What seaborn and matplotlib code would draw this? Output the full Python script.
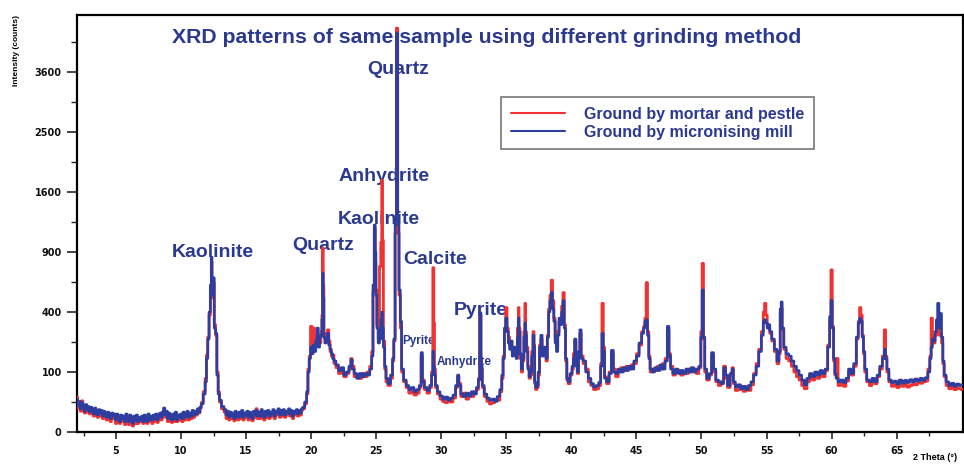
import numpy as np
import matplotlib
matplotlib.use("Agg")
import matplotlib.pyplot as plt
import seaborn as sns

# ---------------- data ----------------
two_theta = [
    2.0, 2.1, 2.2, 2.3, 2.4, 2.5, 2.6, 2.7, 2.8, 2.9,
    3.0, 3.1, 3.2, 3.3, 3.4, 3.5, 3.6, 3.7, 3.8, 3.9,
    4.0, 4.1, 4.2, 4.3, 4.4, 4.5, 4.6, 4.7, 4.8, 4.9,
    5.0, 5.1, 5.2, 5.3, 5.4, 5.5, 5.6, 5.7, 5.8, 5.9,
    6.0, 6.1, 6.2, 6.3, 6.4, 6.5, 6.6, 6.7, 6.8, 6.9,
    7.0, 7.1, 7.2, 7.3, 7.4, 7.5, 7.6, 7.7, 7.8, 7.9,
    8.0, 8.1, 8.2, 8.3, 8.4, 8.5, 8.6, 8.7, 8.8, 8.9,
    9.0, 9.1, 9.2, 9.3, 9.4, 9.5, 9.6, 9.7, 9.8, 9.9,
    10.0, 10.1, 10.2, 10.3, 10.4, 10.5, 10.6, 10.7, 10.8, 10.9,
    11.0, 11.1, 11.2, 11.3, 11.4, 11.5, 11.6,
    11.8, 11.9, 12.0, 12.1, 12.2, 12.3, 12.35, 12.4, 12.5, 12.6, 12.7, 12.8, 12.9, 13.0, 13.2,
    13.4, 13.5, 13.6, 13.7, 13.8, 13.9,
    14.0, 14.1, 14.2, 14.3, 14.4, 14.5, 14.6, 14.7, 14.8, 14.9,
    15.0, 15.1, 15.2, 15.3, 15.4, 15.5, 15.6, 15.7, 15.8, 15.9,
    16.0, 16.1, 16.2, 16.3, 16.4, 16.5, 16.6, 16.7, 16.8, 16.9,
    17.0, 17.1, 17.2, 17.3, 17.4, 17.5, 17.6, 17.7, 17.8, 17.9,
    18.0, 18.1, 18.2, 18.3, 18.4, 18.5, 18.6, 18.7, 18.8, 18.9,
    19.0, 19.1, 19.2, 19.3, 19.4,
    19.6, 19.7, 19.8, 19.9, 20.0, 20.1, 20.2, 20.3, 20.4, 20.5,
    20.6, 20.7, 20.8, 20.85, 20.9, 20.95, 21.0, 21.1, 21.2, 21.3,
    21.4, 21.5, 21.6, 21.7, 21.8, 22.0, 22.2, 22.4, 22.6, 22.8,
    23.0, 23.1, 23.2, 23.4, 23.6, 23.8, 24.0, 24.2, 24.4, 24.6,
    24.7, 24.8, 24.9, 24.95, 25.0, 25.1, 25.2, 25.3, 25.4, 25.45,
    25.5, 25.6, 25.7, 25.8, 26.0, 26.2, 26.3, 26.4, 26.5, 26.6,
    26.7, 26.8, 26.9, 27.0, 27.2, 27.4, 27.6, 27.8, 28.0, 28.2,
    28.4, 28.5, 28.6, 28.8, 29.0, 29.2, 29.3, 29.4, 29.45, 29.5,
    29.6, 29.8, 30.0, 30.2, 30.4, 30.6, 30.8, 31.0, 31.2, 31.3,
    31.4, 31.6, 31.8, 32.0, 32.2, 32.4, 32.6, 32.8, 32.9, 33.0,
    33.1, 33.2, 33.4, 33.6, 33.8, 34.0, 34.2, 34.4, 34.6, 34.7,
    34.8, 34.9, 35.0, 35.1, 35.2, 35.3, 35.4, 35.5, 35.6, 35.7,
    35.8, 35.9, 35.95, 36.0, 36.1, 36.2, 36.3, 36.4, 36.45, 36.5,
    36.6, 36.7, 36.8, 36.9, 37.0, 37.1, 37.15, 37.2, 37.3, 37.4,
    37.5, 37.6, 37.7, 37.8, 37.9, 38.0, 38.1, 38.2, 38.3, 38.4,
    38.5, 38.6, 38.7, 38.8, 38.9, 39.0, 39.1, 39.2, 39.3, 39.4,
    39.5, 39.6, 39.7, 39.8, 40.0, 40.1, 40.2, 40.3, 40.4, 40.5,
    40.6, 40.7, 40.8, 41.0, 41.2, 41.4, 41.6, 41.8, 42.0, 42.2,
    42.3, 42.4, 42.5, 42.6, 42.8, 43.0, 43.15, 43.3, 43.5, 43.7,
    43.9, 44.1, 44.3, 44.5, 44.7, 44.9, 45.1, 45.3, 45.5, 45.6,
    45.7, 45.8, 45.9, 46.0, 46.1, 46.3, 46.5, 46.7, 46.9, 47.1,
    47.3, 47.45, 47.55, 47.7, 47.9, 48.1, 48.3, 48.5, 48.7, 48.9,
    49.1, 49.3, 49.5, 49.7, 49.9, 50.0, 50.1, 50.2, 50.3, 50.5,
    50.7, 50.85, 51.0, 51.2, 51.4, 51.6, 51.8, 51.9, 52.1, 52.3,
    52.4, 52.5, 52.7, 52.9, 53.1, 53.3, 53.5, 53.7, 53.9, 54.1,
    54.3, 54.5, 54.7, 54.8, 54.9, 55.0, 55.1, 55.2, 55.3, 55.5,
    55.7, 55.9, 56.0, 56.1, 56.15, 56.25, 56.4, 56.6, 56.8, 57.0,
    57.2, 57.4, 57.6, 57.8, 58.0, 58.2, 58.4, 58.6, 58.8, 59.0,
    59.2, 59.4, 59.6, 59.8, 59.9, 60.0, 60.1, 60.2, 60.3, 60.4,
    60.6, 60.8, 61.0, 61.2, 61.4, 61.6, 61.8, 62.0, 62.1, 62.2,
    62.3, 62.4, 62.5, 62.6, 62.8, 63.0, 63.2, 63.4, 63.6, 63.8,
    64.0, 64.1, 64.2, 64.3, 64.5, 64.7, 64.9, 65.1, 65.3, 65.5,
    65.7, 65.9, 66.1, 66.3, 66.5, 66.7, 66.9, 67.1, 67.3, 67.5,
    67.6, 67.7, 67.8, 67.9, 68.0, 68.1, 68.2, 68.3, 68.4, 68.5,
    68.6, 68.7, 68.9, 69.1, 69.3, 69.5, 69.7, 69.9, 70.0,
]

mill_counts = [
    30, 19, 26, 15, 24, 17, 12, 21, 14, 18,
    11, 17, 13, 9, 16, 12, 8, 14, 10, 13,
    7, 12, 9, 6, 11, 8, 5, 10, 7, 9,
    4, 9, 6, 3, 8, 5, 7, 3, 9, 5,
    3, 8, 5, 2, 7, 4, 8, 3, 6, 4,
    7, 3, 8, 5, 3, 9, 4, 7, 4, 8,
    5, 9, 4, 7, 10, 6, 11, 16, 8, 12,
    5, 10, 6, 4, 9, 5, 11, 4, 8, 6,
    9, 5, 11, 6, 8, 12, 6, 10, 7, 13,
    8, 12, 9, 15, 11, 17, 22,
    40, 70, 150, 240, 400, 600, 850, 520, 660, 300, 270, 90, 40, 28, 18,
    14, 8, 12, 6, 11, 7,
    10, 5, 12, 8, 6, 11, 7, 13, 6, 10,
    8, 12, 6, 11, 9, 5, 12, 8, 13, 7,
    11, 7, 14, 9, 6, 12, 8, 13, 7, 11,
    9, 14, 7, 12, 10, 15, 8, 13, 9, 14,
    8, 12, 10, 15, 9, 13, 7, 12, 10, 14,
    9, 13, 10, 15, 17,
    25, 45, 100, 150, 200, 170, 210, 180, 230, 300,
    200, 250, 260, 350, 700, 500, 250, 220, 240, 270,
    210, 190, 170, 150, 140, 125, 105, 115, 90, 100,
    120, 145, 110, 95, 80, 95, 85, 95, 90, 110,
    160, 600, 1190, 900, 520, 300, 220, 240, 350, 400,
    300, 200, 120, 80, 65, 90, 150, 240, 1200, 4420,
    1200, 560, 340, 110, 75, 60, 50, 55, 45, 50,
    60, 175, 70, 55, 48, 60, 90, 180, 120, 90,
    60, 45, 36, 30, 34, 28, 32, 38, 60, 90,
    60, 40, 35, 42, 36, 45, 40, 55, 75, 395,
    120, 60, 40, 32, 28, 30, 26, 35, 50, 90,
    150, 300, 360, 280, 220, 190, 230, 160, 200, 180,
    150, 250, 360, 280, 170, 110, 150, 250, 330, 260,
    180, 110, 85, 100, 160, 260, 200, 70, 55, 60,
    100, 200, 260, 160, 200, 180, 150, 250, 400, 480,
    540, 420, 340, 220, 180, 260, 360, 320, 400, 480,
    300, 150, 80, 70, 95, 120, 150, 240, 120, 100,
    180, 290, 150, 140, 100, 80, 65, 56, 60, 68,
    120, 270, 180, 80, 70, 95, 185, 100, 95, 110,
    100, 115, 105, 120, 110, 140, 160, 220, 270, 300,
    340, 350, 260, 150, 110, 100, 115, 105, 125, 110,
    140, 310, 160, 110, 95, 110, 95, 105, 95, 110,
    100, 115, 100, 110, 120, 250, 560, 250, 110, 80,
    95, 175, 110, 75, 70, 65, 115, 90, 60, 95,
    110, 70, 56, 62, 52, 58, 50, 60, 70, 90,
    120, 180, 260, 340, 350, 330, 300, 320, 280, 240,
    190, 140, 180, 420, 470, 300, 200, 170, 160, 140,
    120, 105, 90, 75, 62, 80, 95, 85, 100, 90,
    105, 95, 110, 200, 370, 480, 300, 150, 95, 80,
    70, 75, 68, 80, 110, 95, 130, 250, 330, 360,
    340, 250, 180, 110, 75, 70, 80, 70, 90, 120,
    150, 190, 150, 110, 75, 68, 72, 64, 75, 66,
    74, 68, 76, 70, 78, 72, 80, 74, 82, 100,
    150, 200, 240, 230, 280, 350, 460, 300, 390, 250,
    140, 90, 70, 60, 66, 58, 64, 60, 62,
]

mortar_counts = [
    34, 16, 22, 12, 27, 13, 10, 19, 11, 15,
    9, 15, 10, 7, 13, 9, 6, 12, 7, 11,
    5, 10, 6, 4, 9, 5, 3, 8, 5, 7,
    2, 7, 4, 2, 6, 3, 5, 1.5, 7, 3,
    1.5, 6, 3, 1, 5, 2, 6, 2, 4, 3,
    5, 2, 6, 3, 2, 7, 3, 5, 2, 6,
    3, 7, 2.5, 5, 8, 4, 9, 13, 6, 10,
    3, 8, 4, 2.5, 7, 3, 9, 3, 6, 4,
    7, 3, 9, 4, 6, 10, 4, 8, 5, 11,
    6, 10, 8, 13, 10, 16, 24,
    45, 80, 165, 250, 380, 560, 800, 500, 620, 320, 260, 100, 45, 25, 15,
    11, 5, 9, 4, 8, 5,
    7, 3.5, 9, 5, 4, 8, 5, 10, 4, 7,
    6, 9, 4, 8, 6, 3.5, 9, 6, 15, 5,
    8, 5, 11, 6, 4, 9, 6, 10, 5, 8,
    7, 11, 5, 9, 8, 12, 6, 10, 7, 11,
    6, 9, 8, 12, 7, 10, 5, 9, 8, 11,
    7, 10, 8, 13, 15,
    22, 40, 110, 160, 310, 190, 300, 200, 210, 260,
    230, 220, 280, 380, 940, 600, 270, 240, 260, 290,
    230, 180, 160, 165, 130, 115, 95, 100, 85, 95,
    110, 150, 120, 85, 90, 80, 95, 85, 100, 120,
    180, 550, 1150, 800, 560, 320, 240, 760, 1000, 1760,
    1020, 230, 110, 70, 60, 80, 140, 230, 1100, 4530,
    1100, 520, 300, 100, 70, 55, 42, 45, 38, 42,
    55, 160, 75, 50, 42, 55, 100, 750, 330, 110,
    55, 40, 30, 26, 24, 30, 25, 32, 55, 85,
    65, 35, 42, 30, 40, 35, 45, 50, 80, 380,
    110, 55, 35, 26, 22, 24, 30, 28, 45, 80,
    160, 280, 430, 300, 250, 210, 200, 180, 170, 200,
    160, 300, 430, 300, 150, 100, 140, 280, 460, 280,
    200, 120, 80, 90, 180, 280, 210, 65, 50, 55,
    90, 210, 240, 170, 180, 200, 140, 260, 420, 520,
    640, 480, 360, 240, 200, 280, 340, 350, 440, 540,
    320, 140, 75, 65, 90, 110, 170, 230, 130, 95,
    170, 270, 160, 130, 110, 70, 60, 50, 52, 60,
    130, 460, 200, 85, 65, 100, 170, 110, 85, 100,
    115, 105, 120, 110, 125, 130, 170, 210, 280, 310,
    360, 620, 280, 160, 100, 110, 105, 120, 110, 130,
    150, 290, 170, 120, 90, 100, 105, 90, 100, 95,
    110, 100, 110, 95, 115, 280, 790, 240, 100, 75,
    90, 165, 100, 70, 60, 70, 120, 80, 55, 90,
    115, 65, 48, 50, 58, 46, 55, 48, 62, 95,
    130, 190, 280, 400, 460, 380, 310, 300, 270, 230,
    180, 130, 170, 400, 430, 290, 190, 150, 140, 120,
    100, 85, 75, 60, 52, 70, 90, 75, 95, 80,
    100, 85, 105, 210, 350, 730, 310, 140, 90, 150,
    60, 65, 58, 72, 100, 90, 120, 240, 340, 430,
    380, 260, 170, 100, 70, 60, 75, 65, 85, 110,
    160, 290, 160, 100, 70, 58, 62, 55, 60, 58,
    64, 56, 60, 64, 62, 68, 66, 70, 72, 110,
    160, 360, 250, 220, 260, 300, 330, 260, 270, 220,
    130, 85, 60, 52, 55, 50, 54, 52, 50,
]

series_labels = ["Ground by mortar and pestle", "Ground by micronising mill"]

phase_labels = ["Kaolinite", "Quartz", "Anhydrite", "Kaolinite", "Quartz",
                "Calcite", "Pyrite", "Anhydrite", "Pyrite"]
phase_theta = [12.41, 20.94, 25.62, 25.16, 26.70, 29.54, 28.23, 31.77, 33.07]
phase_counts = [890, 971, 1820, 1260, 3640, 822, 230, 136, 407]
phase_small = [False, False, False, False, False, False, True, True, False]

y_ticks = [0, 100, 400, 900, 1600, 2500, 3600]
y_minor = [25, 225, 625, 1225, 2025, 3025, 4225]
x_ticks = [5, 10, 15, 20, 25, 30, 35, 40, 45, 50, 55, 60, 65]

assert len(two_theta) == len(mill_counts) == len(mortar_counts)

# ---------------- style ----------------
sns.set_theme(style="ticks")
plt.rcParams["font.family"] = ["Liberation Sans", "DejaVu Sans"]

RED = "#f03232"
BLUE = "#2e3ea0"
TXT = "#2b3990"

fig = plt.figure(figsize=(9.64, 4.65), dpi=100)
ax = fig.add_axes([77 / 964, 33 / 465, 886 / 964, 417 / 465])

sns.lineplot(x=two_theta, y=mortar_counts, ax=ax, color=RED, lw=2.0,
             drawstyle="steps-mid", label=series_labels[0], zorder=3)
sns.lineplot(x=two_theta, y=mill_counts, ax=ax, color=BLUE, lw=1.9,
             drawstyle="steps-mid", label=series_labels[1], zorder=4)

ax.set_yscale("function", functions=(lambda v: np.sqrt(np.clip(v, 0, None)),
                                     lambda v: np.square(v)))
ax.set_xlim(2.0, 70.1)
ax.set_ylim(0, 4830)
ax.set_yticks(y_ticks)
ax.set_yticks(y_minor, minor=True)
ax.set_yticklabels([str(t) for t in y_ticks])
ax.set_xticks(x_ticks)
ax.set_xticks([t + 2.5 for t in x_ticks] + [2.5], minor=True)
ax.set_xticklabels([str(t) for t in x_ticks])

for s in ax.spines.values():
    s.set_visible(True)
    s.set_color("black")
    s.set_linewidth(1.6)
ax.tick_params(axis="y", which="major", direction="out", length=7, width=1.2, pad=4)
ax.tick_params(axis="y", which="minor", direction="out", length=4, width=1.0)
ax.tick_params(axis="x", which="major", direction="out", length=5, width=1.2, pad=5)
ax.tick_params(axis="x", which="minor", direction="out", length=3, width=1.0)
for lab in ax.get_xticklabels() + ax.get_yticklabels():
    lab.set_fontfamily("DejaVu Sans")
    lab.set_fontweight("bold")
    lab.set_fontsize(7)
    lab.set_color("#111111")
ax.set_xlabel("")
ax.set_ylabel("")

fig.text(17 / 964, 1 - 50 / 465, "Intensity (counts)", rotation=90, fontsize=6,
         fontweight="bold", ha="center", va="center", color="black")
fig.text(913 / 964, 1 - 457 / 465, "2 Theta (°)", fontsize=6.5, fontweight="bold",
         ha="left", va="center", color="black")

ax.text((172 - 77) / 886, (432 - 37) / 417,
        "XRD patterns of same sample using different grinding method",
        transform=ax.transAxes, fontsize=15.3, fontweight="bold", color=TXT,
        ha="left", va="center", zorder=2)

for lab, tx, cy, small in zip(phase_labels, phase_theta, phase_counts, phase_small):
    ax.text(tx, cy, lab, fontsize=8.5 if small else 14, fontweight="bold",
            color=TXT, ha="center", va="center", zorder=2)

leg = ax.legend(loc="upper left", bbox_to_anchor=((501 - 77) / 886, (432 - 97) / 417),
                borderaxespad=0, frameon=True, fancybox=False, edgecolor="#555555",
                fontsize=11.5, handlelength=3.4, borderpad=0.6, labelspacing=0.2,
                handletextpad=1.2)
leg.get_frame().set_linewidth(1.2)
for line in leg.get_lines():
    line.set_linewidth(1.5)
for t in leg.get_texts():
    t.set_color(TXT)
    t.set_fontweight("bold")

fig.savefig("out.png", dpi=100)
